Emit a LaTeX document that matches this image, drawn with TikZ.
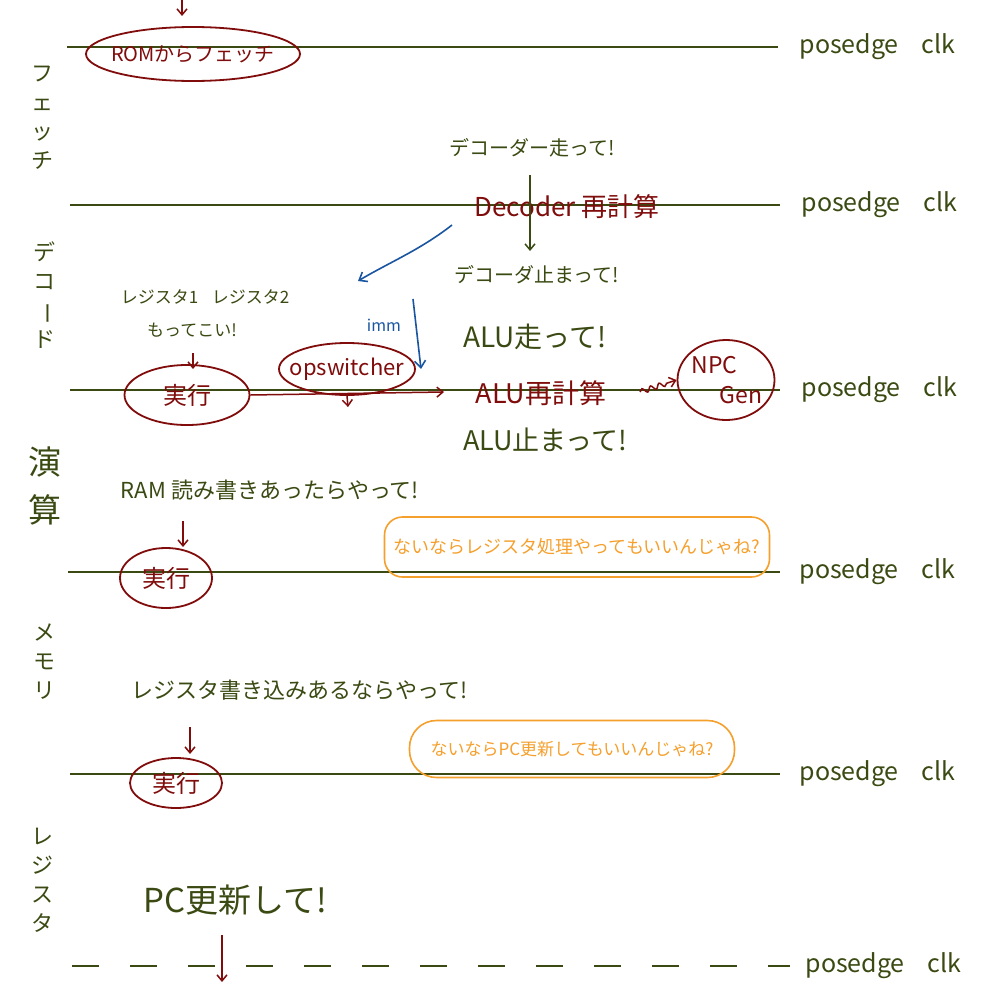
\documentclass[tikz,border=0pt]{standalone}
\usepackage{fontspec}
\setmainfont{Noto Sans CJK JP}
\usetikzlibrary{shapes.geometric,decorations.pathmorphing,arrows.meta}
\definecolor{gr}{RGB}{58,74,18}
\definecolor{dr}{RGB}{128,12,12}
\definecolor{bl}{RGB}{25,85,160}
\definecolor{org}{RGB}{245,160,45}
\begin{document}
\begin{tikzpicture}[x=1pt,y=-1pt,
  fs/.style={font=\fontsize{#1}{#1}\selectfont},
  clkline/.style={draw=gr,line width=2.2pt},
  clklbl/.style={text=gr,fs=25,anchor=west},
  gtxt/.style={text=gr,inner sep=0pt},
  rtxt/.style={text=dr,inner sep=0pt},
  stagelbl/.style={text=gr,align=center,font=\fontsize{22}{29}\selectfont,inner sep=0pt},
  redell/.style={ellipse,draw=dr,line width=1.8pt,text=dr,inner sep=0pt},
  rarr/.style={draw=dr,line width=1.5pt,-{Straight Barb[length=6pt,width=10pt]}},
  barr/.style={draw=bl,line width=1.6pt,-{Straight Barb[length=7pt,width=11pt]}},
  gline/.style={draw=gr,line width=1.5pt,-{Straight Barb[length=6pt,width=10pt]}},
  obox/.style={rectangle,rounded corners=18pt,draw=org,line width=1.6pt,text=org,inner sep=0pt}]
\useasboundingbox[fill=white] (0,0) rectangle (1000,1004);

% clock lines
\coordinate (l1a) at (67,47);  \coordinate (l1b) at (778,47);
\coordinate (l2a) at (70,205); \coordinate (l2b) at (780,205);
\coordinate (l3a) at (70,390); \coordinate (l3b) at (780,390);
\coordinate (l4a) at (68,572); \coordinate (l4b) at (780,572);
\coordinate (l5a) at (70,774); \coordinate (l5b) at (780,774);
\coordinate (l6a) at (72,966); \coordinate (l6b) at (790,966);
\draw[clkline] (l1a) -- (l1b);
\draw[clkline] (l2a) -- (l2b);
\draw[clkline] (l3a) -- (l3b);
\draw[clkline] (l4a) -- (l4b);
\draw[clkline] (l5a) -- (l5b);
\draw[clkline,dash pattern=on 27pt off 31pt] (l6a) -- (l6b);

\node[clklbl] (c1) at (796,47) {posedge\hspace{0.9em}clk};
\node[clklbl] (c2) at (798,205) {posedge\hspace{0.9em}clk};
\node[clklbl] (c3) at (798,390) {posedge\hspace{0.9em}clk};
\node[clklbl] (c4) at (796,572) {posedge\hspace{0.9em}clk};
\node[clklbl] (c5) at (796,774) {posedge\hspace{0.9em}clk};
\node[clklbl] (c6) at (802,966) {posedge\hspace{0.9em}clk};

% stage labels
\node[stagelbl] (s1) at (42,118) {フ\\ェ\\ッ\\チ};
\node[stagelbl] (s2) at (44,295) {デ\\コ\\\rotatebox[origin=c]{-90}{ー}\\ド};
\node[stagelbl,font=\fontsize{33}{48}\selectfont] (s3) at (45,486) {演\\算};
\node[stagelbl] (s4) at (44,662) {メ\\モ\\リ};
\node[stagelbl] (s5) at (42,880) {レ\\ジ\\ス\\タ};

% fetch
\node[redell,minimum width=214pt,minimum height=54pt,fs=20] (rom) at (193,54) {\makebox[0pt]{ROMからフェッチ}};
\coordinate (topin) at (182,0);
\coordinate (topend) at (182,16);
\draw[rarr] (topin) -- (topend);

% decode
\node[gtxt,fs=20] (decrun) at (532,148) {デコーダー走って!};
\node[rtxt,fs=26] (decre) at (567,207) {Decoder 再計算};
\node[gtxt,fs=20] (decstop) at (537,275) {デコーダ止まって!};
\coordinate (dA) at (530,175);
\coordinate (dB) at (530,251);
\draw[gline] (dA) -- (dB);

% blue
\coordinate (b1) at (452,225);
\coordinate (b2) at (358,281);
\draw[barr] (b1) .. controls (420,250) and (390,262) .. (b2);
\node[text=bl,fs=16,inner sep=0pt] (imm) at (384,325) {imm};
\coordinate (i1) at (413,299);
\coordinate (i2) at (421,369);
\draw[barr] (i1) -- (i2);

% regs
\node[gtxt,fs=17] (regs) at (205,297) {レジスタ1\hspace{0.8em}レジスタ2};
\node[gtxt,fs=17] (motte) at (192,330) {もってこい!};
\node[redell,minimum width=125pt,minimum height=60pt,fs=24] (ex1) at (187,395) {\makebox[0pt]{実行}};
\coordinate (m1) at (193,353);
\coordinate (m2) at (193,369);
\draw[rarr] (m1) -- (m2);
\node[redell,minimum width=136pt,minimum height=52pt,fs=22] (ops) at (347,369) {\makebox[0pt]{opswitcher}};
\coordinate (exo) at (444,392);
\draw[rarr] (ex1.east) -- (exo);
\coordinate (opsd) at (348,407);
\draw[rarr] (ops.south) -- (opsd);

% ALU
\node[gtxt,fs=28] (alurun) at (535,337) {ALU走って!};
\node[rtxt,fs=27] (alure) at (541,393) {ALU再計算};
\node[gtxt,fs=27] (alustop) at (545,440) {ALU止まって!};
\node[redell,minimum width=97pt,minimum height=80pt,align=center,font=\fontsize{23}{30}\selectfont] (npc) at (726,380) {\makebox[0pt]{NPC\hspace{1em}}\\\makebox[0pt]{\hspace{1.3em}Gen}};
\coordinate (sq1) at (640,392);
\draw[draw=dr,line width=1.5pt,decorate,decoration={snake,amplitude=2.5pt,segment length=9pt,post length=8pt},-{Straight Barb[length=6pt,width=10pt]}] (sq1) -- (npc.west);

% memory stage
\node[gtxt,fs=22] (ram) at (270,490) {RAM 読み書きあったらやって!};
\node[redell,minimum width=92pt,minimum height=60pt,fs=24] (ex2) at (166,578) {\makebox[0pt]{実行}};
\coordinate (r1) at (183,521);
\coordinate (r2) at (183,547);
\draw[rarr] (r1) -- (r2);
\node[obox,minimum width=385pt,minimum height=60pt,fs=18] (nai1) at (577,547) {ないならレジスタ処理やってもいいんじゃね?};

% writeback
\node[gtxt,fs=22] (regw) at (300,690) {レジスタ書き込みあるならやって!};
\node[redell,minimum width=92pt,minimum height=50pt,fs=24] (ex3) at (176,783) {\makebox[0pt]{実行}};
\coordinate (w1) at (190,727);
\coordinate (w2) at (190,754);
\draw[rarr] (w1) -- (w2);
\node[obox,rounded corners=27pt,minimum width=325pt,minimum height=57pt,fs=17] (nai2) at (572,749) {ないならPC更新してもいいんじゃね?};

% PC
\node[gtxt,fs=33] (pc) at (235,900) {PC更新して!};
\coordinate (p1) at (222,935);
\coordinate (p2) at (222,982);
\draw[rarr] (p1) -- (p2);
\end{tikzpicture}
\end{document}
